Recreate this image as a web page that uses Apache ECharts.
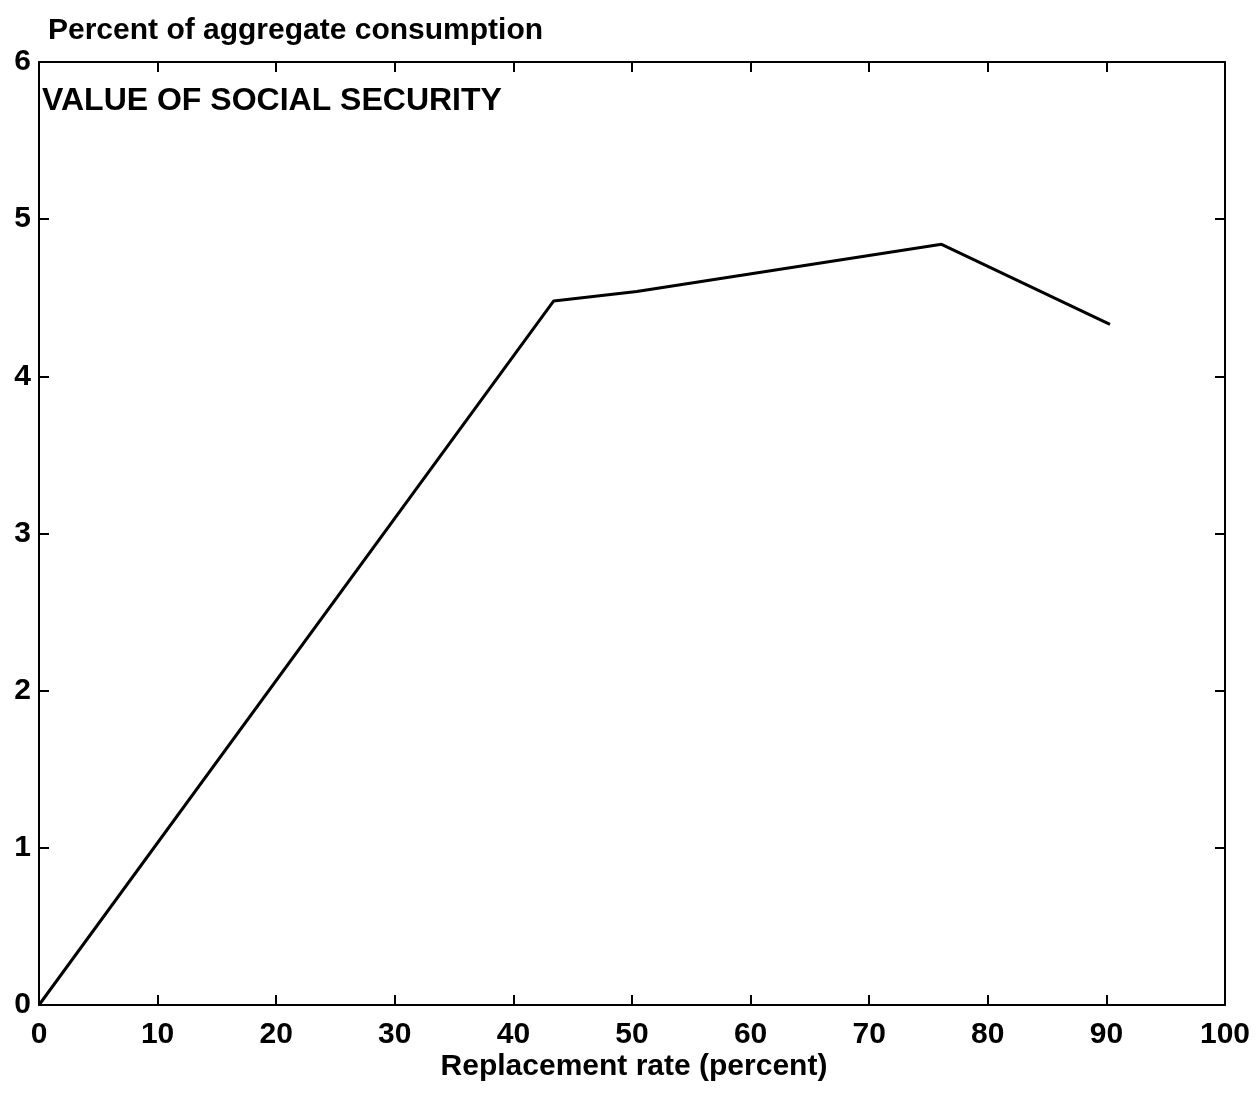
<!DOCTYPE html>
<html><head><meta charset="utf-8">
<script src="https://cdn.jsdelivr.net/npm/echarts@6/dist/echarts.min.js"></script>
<style>html,body{margin:0;padding:0;background:#fff}#c{width:1257px;height:1093px}</style>
</head><body><div id="c"></div>
<script>
const replacementRate = [0, 43.4, 50.4, 76.1, 90.3];
const valueOfSS = [0, 4.48, 4.54, 4.84, 4.33];
const xTicks = [0, 10, 20, 30, 40, 50, 60, 70, 80, 90, 100];
const yTicks = [0, 1, 2, 3, 4, 5, 6];

const chart = echarts.init(document.getElementById('c'));
const font = '"Liberation Sans", Arial, sans-serif';
function axisBase() {
  return {
    type: 'value',
    axisLine: {show: true, onZero: false, lineStyle: {color: '#000', width: 2}},
    axisTick: {show: true, inside: true, length: 10, lineStyle: {color: '#000', width: 2}},
    splitLine: {show: false}
  };
}
const labelStyle = {fontFamily: font, fontSize: 30, fontWeight: 'bold', color: '#000'};
chart.setOption({
  animation: false,
  grid: {left: 39, right: 32, top: 62, bottom: 88, containLabel: false},
  graphic: [
    {type: 'text', left: 48, top: 16, style: {text: 'Percent of aggregate consumption', font: 'bold 30px ' + font, fill: '#000'}},
    {type: 'text', left: 42, top: 85, style: {text: 'VALUE OF SOCIAL SECURITY', font: 'bold 32px ' + font, fill: '#000'}},
    {type: 'text', x: 634, y: 1067, style: {text: 'Replacement rate (percent)', font: 'bold 30px ' + font, fill: '#000', align: 'center', verticalAlign: 'middle'}}
  ],
  xAxis: [
    Object.assign(axisBase(), {position: 'bottom', min: 0, max: 100, interval: 10,
      axisLabel: Object.assign({margin: 15, formatter: v => xTicks.includes(v) ? String(v) : ''}, labelStyle)}),
    Object.assign(axisBase(), {position: 'top', min: 0, max: 100, interval: 10, axisLabel: {show: false}})
  ],
  yAxis: [
    Object.assign(axisBase(), {position: 'left', min: 0, max: 6, interval: 1,
      axisLabel: Object.assign({margin: 8, verticalAlign: 'middle', formatter: v => yTicks.includes(v) ? String(v) : ''}, labelStyle)}),
    Object.assign(axisBase(), {position: 'right', min: 0, max: 6, interval: 1, axisLabel: {show: false}})
  ],
  series: [{
    type: 'line', xAxisIndex: 0, yAxisIndex: 0,
    data: replacementRate.map((x, i) => [x, valueOfSS[i]]),
    showSymbol: false, lineStyle: {color: '#000', width: 3}, clip: false
  }]
});
</script></body></html>
